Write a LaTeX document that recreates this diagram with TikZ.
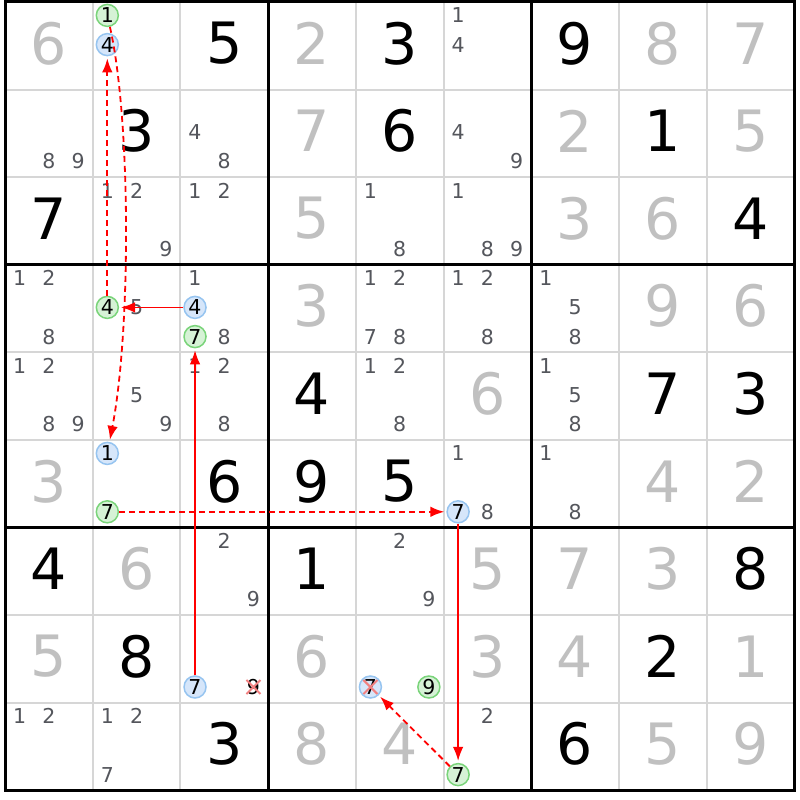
\documentclass[tikz,border=0pt]{standalone}
\usepackage{fontspec}
\setmainfont{DejaVu Sans}
\usetikzlibrary{arrows.meta}
\definecolor{solgray}{RGB}{192,192,192}
\definecolor{candgray}{RGB}{84,86,92}
\definecolor{gridgray}{RGB}{214,214,214}
\definecolor{gfill}{RGB}{214,242,214}
\definecolor{gdraw}{RGB}{122,212,122}
\definecolor{bfill}{RGB}{214,230,250}
\definecolor{bdraw}{RGB}{150,196,240}
\definecolor{xred}{RGB}{242,128,128}
\newcommand\GivD[3]{\node[given] (v#1#2) at ({5+(#2-0.5)*87.7},{2+(#1-0.5)*87.6-2.5}) {#3};}
\newcommand\SolD[3]{\node[solved] (v#1#2) at ({5+(#2-0.5)*87.7},{2+(#1-0.5)*87.6-2.5}) {#3};}
\newcommand\Cands[3]{\foreach \d in {#3}{\node[cand] (c#1#2\d) at ({5+(#2-1)*87.7+(mod(\d-1,3)+0.5)*29.23},{2+(#1-1)*87.6+(floor((\d-1)/3)+0.5)*29.2-1.2}) {\d};}}
\newcommand\Circ[5]{\node[#1] (#2) at ({5+(#4-1)*87.7+(mod(#5-1,3)+0.5)*29.23},{2+(#3-1)*87.6+(floor((#5-1)/3)+0.5)*29.2-1.2}) {#5};}
\tikzset{
  given/.style={text=black, font=\fontsize{57}{57}\selectfont, inner sep=0pt},
  solved/.style={text=solgray, font=\fontsize{57}{57}\selectfont, inner sep=0pt},
  cand/.style={text=candgray, font=\fontsize{20.5}{20.5}\selectfont, inner sep=0pt},
  gc/.style={circle, draw=gdraw, fill=gfill, line width=1.5pt, minimum size=22pt, inner sep=0pt, text=black, font=\fontsize{20.5}{20.5}\selectfont},
  bc/.style={circle, draw=bdraw, fill=bfill, line width=1.5pt, minimum size=22pt, inner sep=0pt, text=black, font=\fontsize{20.5}{20.5}\selectfont},
  thingrid/.style={draw=gridgray, line width=2pt},
  thickgrid/.style={draw=black, line width=3pt, line cap=rect},
  chain/.style={draw=red, line width=1.4pt, shorten >=2pt, -{Latex[length=14pt,width=10.5pt]}},
  dchain/.style={chain, line width=1.8pt, dash pattern=on 6pt off 4pt},
  xmark/.style={draw=xred, line width=2pt}
}
\begin{document}
\begin{tikzpicture}[x=1pt,y=-1pt]
\useasboundingbox (0,0) rectangle (800,800);
\fill[white] (0,0) rectangle (800,800);
% grid
\foreach \i in {1,2,4,5,7,8}{
  \draw[thingrid] ({5+\i*87.7},2) -- ({5+\i*87.7},790.4);
  \draw[thingrid] (5,{2+\i*87.6}) -- (794.3,{2+\i*87.6});
}
\foreach \i in {0,3,6,9}{
  \draw[thickgrid] ({5+\i*87.7},2) -- ({5+\i*87.7},790.4);
  \draw[thickgrid] (5,{2+\i*87.6}) -- (794.3,{2+\i*87.6});
}
% row 1
\SolD{1}{1}{6}
\Circ{gc}{G121}{1}{2}{1}
\Circ{bc}{B124}{1}{2}{4}
\GivD{1}{3}{5}
\SolD{1}{4}{2}
\GivD{1}{5}{3}
\Cands{1}{6}{1,4}
\GivD{1}{7}{9}
\SolD{1}{8}{8}
\SolD{1}{9}{7}
% row 2
\Cands{2}{1}{8,9}
\GivD{2}{2}{3}
\Cands{2}{3}{4,8}
\SolD{2}{4}{7}
\GivD{2}{5}{6}
\Cands{2}{6}{4,9}
\SolD{2}{7}{2}
\GivD{2}{8}{1}
\SolD{2}{9}{5}
% row 3
\GivD{3}{1}{7}
\Cands{3}{2}{1,2,9}
\Cands{3}{3}{1,2}
\SolD{3}{4}{5}
\Cands{3}{5}{1,8}
\Cands{3}{6}{1,8,9}
\SolD{3}{7}{3}
\SolD{3}{8}{6}
\GivD{3}{9}{4}
% row 4
\Cands{4}{1}{1,2,8}
\Circ{gc}{G424}{4}{2}{4}
\Cands{4}{2}{5}
\Cands{4}{3}{1,8}
\Circ{bc}{B434}{4}{3}{4}
\Circ{gc}{G437}{4}{3}{7}
\SolD{4}{4}{3}
\Cands{4}{5}{1,2,7,8}
\Cands{4}{6}{1,2,8}
\Cands{4}{7}{1,5,8}
\SolD{4}{8}{9}
\SolD{4}{9}{6}
% row 5
\Cands{5}{1}{1,2,8,9}
\Cands{5}{2}{5,9}
\Cands{5}{3}{1,2,8}
\GivD{5}{4}{4}
\Cands{5}{5}{1,2,8}
\SolD{5}{6}{6}
\Cands{5}{7}{1,5,8}
\GivD{5}{8}{7}
\GivD{5}{9}{3}
% row 6
\SolD{6}{1}{3}
\Circ{bc}{B621}{6}{2}{1}
\Circ{gc}{G627}{6}{2}{7}
\GivD{6}{3}{6}
\GivD{6}{4}{9}
\GivD{6}{5}{5}
\Cands{6}{6}{1,8}
\Circ{bc}{B667}{6}{6}{7}
\Cands{6}{7}{1,8}
\SolD{6}{8}{4}
\SolD{6}{9}{2}
% row 7
\GivD{7}{1}{4}
\SolD{7}{2}{6}
\Cands{7}{3}{2,9}
\GivD{7}{4}{1}
\Cands{7}{5}{2,9}
\SolD{7}{6}{5}
\SolD{7}{7}{7}
\SolD{7}{8}{3}
\GivD{7}{9}{8}
% row 8
\SolD{8}{1}{5}
\GivD{8}{2}{8}
\Circ{bc}{B837}{8}{3}{7}
\Circ{cand,text=black}{c839}{8}{3}{9}
\SolD{8}{4}{6}
\Circ{bc}{B857}{8}{5}{7}
\Circ{gc}{G859}{8}{5}{9}
\SolD{8}{6}{3}
\SolD{8}{7}{4}
\GivD{8}{8}{2}
\SolD{8}{9}{1}
% row 9
\Cands{9}{1}{1,2}
\Cands{9}{2}{1,2,7}
\GivD{9}{3}{3}
\SolD{9}{4}{8}
\SolD{9}{5}{4}
\Cands{9}{6}{2}
\Circ{gc}{G967}{9}{6}{7}
\GivD{9}{7}{6}
\SolD{9}{8}{5}
\SolD{9}{9}{9}
% eliminations
\draw[xmark] (c839.center) ++(-7,-7) -- ++(14,14) (c839.center) ++(-7,7) -- ++(14,-14);
\draw[xmark] (B857.center) ++(-7,-7) -- ++(14,14) (B857.center) ++(-7,7) -- ++(14,-14);
% chain
\draw[dchain] (G424) -- (B124);
\draw[dchain] (G121) .. controls (131,120) and (131,330) .. (B621);
\draw[chain] (B434) -- (G424);
\draw[chain] (B837) -- (G437);
\draw[dchain] (G627) -- (B667);
\draw[chain] (B667) -- (G967);
\draw[dchain] (G967) -- (B857);
\end{tikzpicture}
\end{document}
